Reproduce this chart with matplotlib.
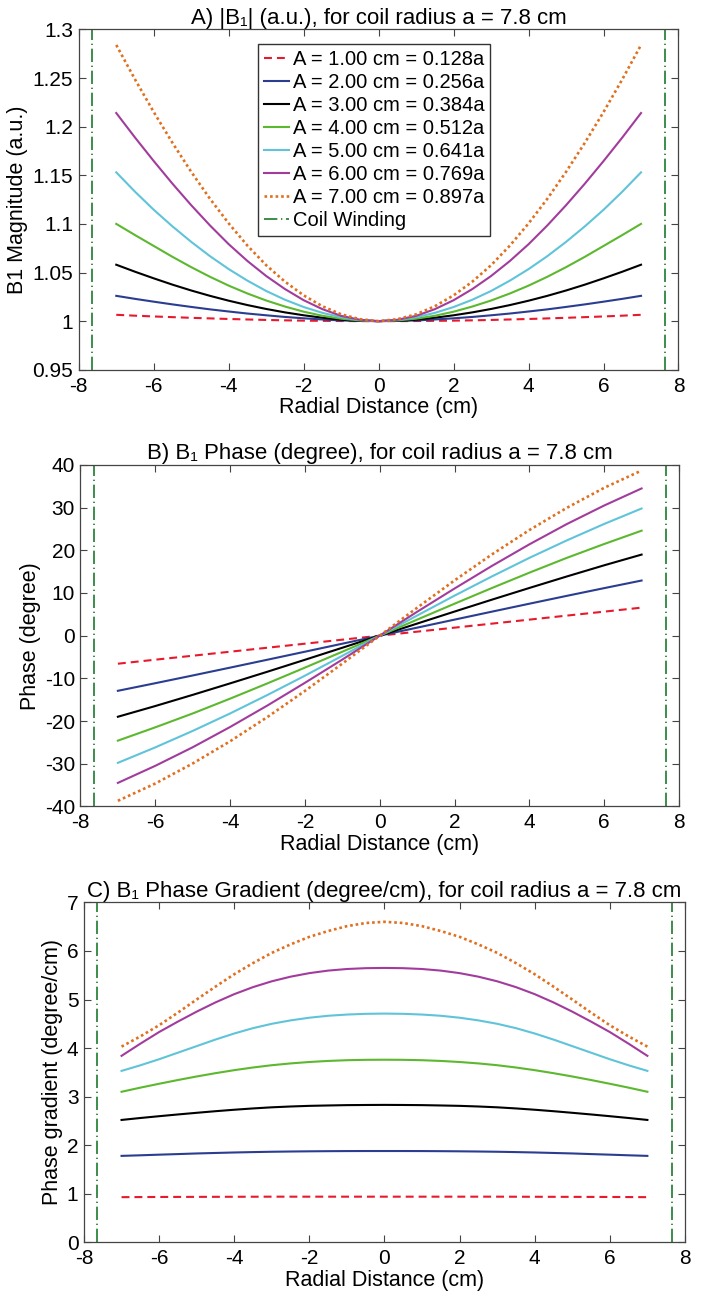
import numpy as np
import matplotlib
matplotlib.use('Agg')
import matplotlib.pyplot as plt
from matplotlib.ticker import FormatStrFormatter

plt.rcParams['font.family'] = ['Liberation Sans', 'DejaVu Sans']
plt.rcParams['axes.unicode_minus'] = False

x_half = [0, 1, 2, 3, 4, 5, 6, 7]
x_fine = [0, 0.5, 1, 1.5, 2, 2.5, 3, 3.5, 4, 4.5, 5, 5.5, 6, 6.5, 7]
coil_pos = 7.65

labels = ['A = 1.00 cm = 0.128a', 'A = 2.00 cm = 0.256a', 'A = 3.00 cm = 0.384a',
          'A = 4.00 cm = 0.512a', 'A = 5.00 cm = 0.641a', 'A = 6.00 cm = 0.769a',
          'A = 7.00 cm = 0.897a']

# A) |B1| Magnitude (x_fine)
mag_red    = [1.0, 1.00003, 1.0001, 1.0003, 1.0005, 1.0008, 1.0012, 1.0017, 1.0022,
              1.0028, 1.0034, 1.0041, 1.0048, 1.0056, 1.0065]
mag_blue   = [1.0, 1.0002, 1.0007, 1.0017, 1.0029, 1.0043, 1.0060, 1.0078, 1.0099,
              1.0121, 1.0146, 1.0172, 1.0200, 1.0229, 1.0260]
mag_black  = [1.0, 1.0004, 1.0015, 1.0035, 1.0060, 1.0090, 1.0125, 1.0165, 1.0210,
              1.0260, 1.0315, 1.0375, 1.0440, 1.0508, 1.0580]
mag_green  = [1.0, 1.0007, 1.0025, 1.0055, 1.0097, 1.0150, 1.0212, 1.0284, 1.0365,
              1.0456, 1.0555, 1.0661, 1.0773, 1.0885, 1.1000]
mag_cyan   = [1.0, 1.0012, 1.0040, 1.0085, 1.0145, 1.0220, 1.0310, 1.0416, 1.0535,
              1.0668, 1.0815, 1.0974, 1.1145, 1.1331, 1.1530]
mag_purple = [1.0, 1.0014, 1.0054, 1.0123, 1.0215, 1.0330, 1.0464, 1.0618, 1.0791,
              1.0984, 1.1192, 1.1413, 1.1646, 1.1888, 1.2140]
mag_orange = [1.0, 1.0020, 1.0070, 1.0153, 1.0265, 1.0406, 1.0575, 1.0776, 1.1005,
              1.1258, 1.1535, 1.1833, 1.2150, 1.2486, 1.2840]

# B) Phase (degree), ungerade (x_half)
ph_red    = [0, 0.94, 1.88, 2.82, 3.76, 4.70, 5.63, 6.57]
ph_blue   = [0, 1.88, 3.76, 5.63, 7.49, 9.33, 11.14, 12.92]
ph_black  = [0, 2.83, 5.65, 8.44, 11.18, 13.87, 16.49, 19.0]
ph_green  = [0, 3.76, 7.49, 11.17, 14.76, 18.23, 21.48, 24.6]
ph_cyan   = [0, 4.72, 9.38, 13.89, 18.23, 22.32, 26.18, 29.8]
ph_purple = [0, 5.60, 11.05, 16.35, 21.40, 26.15, 30.50, 34.5]
ph_orange = [0, 6.55, 12.95, 19.05, 24.75, 29.95, 34.65, 38.7]

# C) Phase gradient (degree/cm) (x_fine)
gr_red    = [0.94, 0.94, 0.94, 0.94, 0.94, 0.94, 0.94, 0.939, 0.938, 0.937,
             0.936, 0.935, 0.934, 0.932, 0.93]
gr_blue   = [1.88, 1.88, 1.879, 1.877, 1.874, 1.87, 1.865, 1.858, 1.85, 1.84,
             1.83, 1.817, 1.805, 1.792, 1.78]
gr_black  = [2.83, 2.828, 2.825, 2.818, 2.81, 2.797, 2.78, 2.757, 2.73, 2.70,
             2.667, 2.633, 2.597, 2.56, 2.52]
gr_green  = [3.76, 3.758, 3.75, 3.735, 3.713, 3.684, 3.647, 3.60, 3.545, 3.483,
             3.415, 3.342, 3.265, 3.185, 3.10]
gr_cyan   = [4.71, 4.705, 4.69, 4.665, 4.625, 4.57, 4.50, 4.41, 4.30, 4.175,
             4.04, 3.905, 3.77, 3.645, 3.53]
gr_purple = [5.65, 5.645, 5.628, 5.595, 5.543, 5.47, 5.375, 5.255, 5.11, 4.94,
             4.75, 4.545, 4.33, 4.09, 3.84]
gr_orange = [6.60, 6.575, 6.51, 6.41, 6.29, 6.135, 5.96, 5.75, 5.52, 5.265,
             5.00, 4.73, 4.47, 4.24, 4.03]

colors = ['#e8192c', '#2b3d91', '#000000', '#5cb82e', '#5fc4d9', '#a23c9c', '#e0701f']
styles = [(0, (3.8, 2.4)), '-', '-', '-', '-', '-', (0, (1.0, 1.1))]
widths = [1.5, 1.5, 1.5, 1.5, 1.5, 1.5, 1.9]
coil_color = '#1d7a2c'


def sym_x(xh):
    xh = np.array(xh, dtype=float)
    return np.concatenate([-xh[::-1], xh[1:]])


def sym(vals, odd=False):
    v = np.array(vals, dtype=float)
    left = -v[::-1] if odd else v[::-1]
    return np.concatenate([left, v[1:]])


def style_axes(ax, xlabel, ylabel, title):
    ax.set_xlim(-8, 8)
    ax.set_xticks(np.arange(-8, 9, 2))
    ax.tick_params(direction='in', top=True, right=True, length=5, width=0.8,
                   color='#444444', labelsize=15)
    ax.tick_params(axis='x', pad=5)
    ax.tick_params(axis='y', pad=4)
    for s in ax.spines.values():
        s.set_color('#444444')
        s.set_linewidth(0.9)
    ax.set_xlabel(xlabel, fontsize=15.5, labelpad=1)
    ax.set_ylabel(ylabel, fontsize=15.5, labelpad=3)
    ax.set_title(title, fontsize=16, pad=4)


fig = plt.figure(figsize=(7.01, 13.01), dpi=100)
axA = fig.add_axes([0.1124, 0.7158, 0.8555, 0.2616])
axB = fig.add_axes([0.1148, 0.3802, 0.8538, 0.2624])
axC = fig.add_axes([0.1198, 0.0451, 0.8573, 0.2613])

xs = sym_x(x_half)
xs_f = sym_x(x_fine)

# --- Panel A ---
mags = [mag_red, mag_blue, mag_black, mag_green, mag_cyan, mag_purple, mag_orange]
for vals, c, ls, lw, lab in zip(mags, colors, styles, widths, labels):
    axA.plot(xs_f, sym(vals), color=c, linestyle=ls, linewidth=lw, label=lab)
axA.set_ylim(0.95, 1.3)
axA.set_yticks(np.arange(0.95, 1.301, 0.05))
axA.yaxis.set_major_formatter(FormatStrFormatter('%g'))

# --- Panel B ---
phases = [ph_red, ph_blue, ph_black, ph_green, ph_cyan, ph_purple, ph_orange]
for vals, c, ls, lw in zip(phases, colors, styles, widths):
    axB.plot(xs, sym(vals, odd=True), color=c, linestyle=ls, linewidth=lw)
axB.set_ylim(-40, 40)
axB.set_yticks(np.arange(-40, 41, 10))

# --- Panel C ---
grads = [gr_red, gr_blue, gr_black, gr_green, gr_cyan, gr_purple, gr_orange]
for vals, c, ls, lw in zip(grads, colors, styles, widths):
    axC.plot(xs_f, sym(vals), color=c, linestyle=ls, linewidth=lw)
axC.set_ylim(0, 7)
axC.set_yticks(np.arange(0, 8, 1))

# Spulenwicklung
for ax in (axA, axB, axC):
    lo, hi = ax.get_ylim()
    for k, xc in enumerate((-coil_pos, coil_pos)):
        ax.plot([xc, xc], [lo, hi], color=coil_color, linewidth=1.2,
                linestyle=(0, (8, 2.2, 0.8, 2.2)),
                label='Coil Winding' if (ax is axA and k == 0) else None)
    ax.set_ylim(lo, hi)

b1 = 'B\u2081'
style_axes(axA, 'Radial Distance (cm)', 'B1 Magnitude (a.u.)',
           f'A) |{b1}| (a.u.), for coil radius a = 7.8 cm')
style_axes(axB, 'Radial Distance (cm)', 'Phase (degree)',
           f'B) {b1} Phase (degree), for coil radius a = 7.8 cm')
style_axes(axC, 'Radial Distance (cm)', 'Phase gradient (degree/cm)',
           f'C) {b1} Phase Gradient (degree/cm), for coil radius a = 7.8 cm')

leg = axA.legend(loc='upper left', bbox_to_anchor=(0.298, 0.957), borderaxespad=0,
                 fontsize=14.5, fancybox=False, framealpha=1, edgecolor='#333333',
                 handlelength=1.25, handletextpad=0.2, labelspacing=0.2,
                 borderpad=0.3)
leg.get_frame().set_linewidth(1.0)

fig.savefig('out.png', dpi=100)
